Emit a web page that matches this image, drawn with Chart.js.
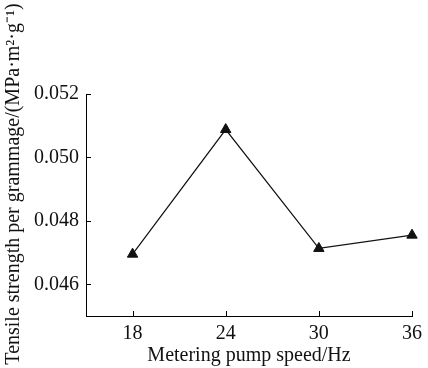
<!DOCTYPE html>
<html>
<head>
<meta charset="utf-8">
<script src="https://cdn.jsdelivr.net/npm/chart.js@4"></script>
<style>
  html, body { margin: 0; padding: 0; background: #fff; }
  #wrap { width: 428px; height: 368px; position: relative; }
</style>
</head>
<body>
<div id="wrap"><canvas id="chart"></canvas></div>
<script>
// data
const pumpSpeed = [18, 24, 30, 36];
const strength = [0.04695, 0.05088, 0.04713, 0.04755];
const xTicks = [18, 24, 30, 36];
const yTicks = [0.046, 0.048, 0.050, 0.052];
const yTitle = "Tensile strength per grammage/(MPa\u00b7m\u00b2\u00b7g\u207b\u00b9)";
const xTitle = "Metering pump speed/Hz";

const FONT = "Liberation Serif, Times New Roman, serif";

// ticks point into the plot, so draw them here
const innerTicks = {
    id: "innerTicks",
    afterDraw(chart) {
        const { ctx, scales } = chart;
        const x = scales.x, y = scales.y;
        ctx.save();
        ctx.strokeStyle = "#000";
        ctx.lineWidth = 1;
        ctx.beginPath();
        xTicks.forEach(v => {
            const px = Math.round(x.getPixelForValue(v)) + 0.5;
            ctx.moveTo(px, y.bottom);
            ctx.lineTo(px, y.bottom - 5);
        });
        yTicks.forEach(v => {
            const py = Math.round(y.getPixelForValue(v)) + 0.5;
            ctx.moveTo(x.left, py);
            ctx.lineTo(x.left + 5, py);
        });
        ctx.stroke();

        // y title, centred on the whole canvas height
        ctx.fillStyle = "#111";
        ctx.font = "20px " + FONT;
        ctx.textAlign = "center";
        ctx.textBaseline = "middle";
        ctx.translate(14, 184);
        ctx.rotate(-Math.PI / 2);
        ctx.fillText(yTitle, 0, 0);
        ctx.restore();
    }
};

new Chart(document.getElementById("chart"), {
    type: "line",
    data: {
        datasets: [{
            data: pumpSpeed.map((s, i) => ({ x: s, y: strength[i] })),
            borderColor: "#111",
            borderWidth: 1.2,
            backgroundColor: "#111",
            pointStyle: "triangle",
            pointRadius: 6,
            pointBorderWidth: 1,
            fill: false,
            tension: 0,
            clip: false
        }]
    },
    options: {
        responsive: true,
        maintainAspectRatio: false,
        animation: false,
        layout: { padding: { top: 94, right: 10, left: 0, bottom: 0 } },
        plugins: {
            legend: { display: false },
            tooltip: { enabled: false }
        },
        scales: {
            x: {
                type: "linear",
                min: 15,
                max: 36,
                afterBuildTicks: s => { s.ticks = xTicks.map(v => ({ value: v })); },
                afterFit: s => { s.height = 52; },
                grid: { display: false, drawTicks: false },
                border: { display: true, color: "#000", width: 1 },
                ticks: {
                    color: "#111",
                    font: { family: FONT, size: 20 },
                    padding: 6,
                    maxRotation: 0
                },
                title: {
                    display: true,
                    text: xTitle,
                    color: "#111",
                    font: { family: FONT, size: 20 },
                    padding: { top: -5, bottom: 0 }
                }
            },
            y: {
                min: 0.045,
                max: 0.052,
                afterBuildTicks: s => { s.ticks = yTicks.map(v => ({ value: v })); },
                afterFit: s => { s.width = 86; },
                grid: { display: false, drawTicks: false },
                border: { display: true, color: "#000", width: 1 },
                ticks: {
                    color: "#111",
                    font: { family: FONT, size: 20 },
                    padding: 7,
                    callback: v => v.toFixed(3)
                }
            }
        }
    },
    plugins: [innerTicks]
});
</script>
</body>
</html>
